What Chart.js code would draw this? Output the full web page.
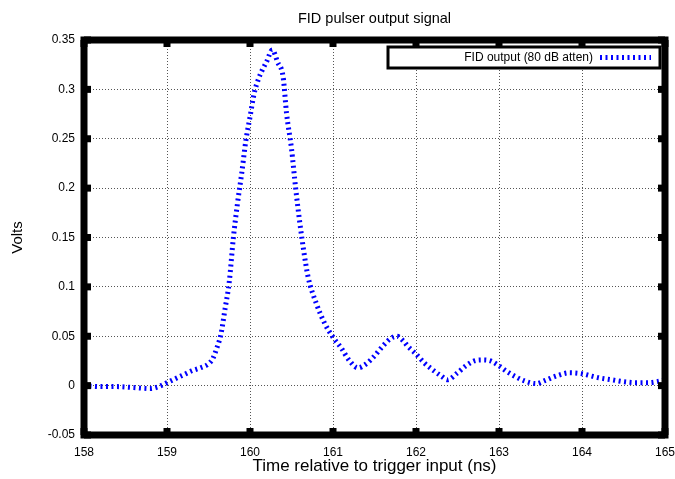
<!DOCTYPE html>
<html>
<head>
<meta charset="utf-8">
<script src="https://cdn.jsdelivr.net/npm/chart.js@4/dist/chart.umd.min.js"></script>
<style>
  html, body { margin: 0; padding: 0; background: #fff; }
  #wrap { width: 675px; height: 479px; }
</style>
</head>
<body>
<div id="wrap"><canvas id="fid" width="675" height="479"></canvas></div>
<script>
const timeNs = [
  158.0, 158.2, 158.4, 158.6, 158.8, 158.9, 159.0, 159.1, 159.2, 159.3,
  159.4, 159.5, 159.55, 159.6, 159.65, 159.7, 159.75, 159.8, 159.85, 159.9,
  159.95, 160.0, 160.05, 160.1, 160.15, 160.2, 160.27, 160.33, 160.4, 160.44,
  160.5, 160.55, 160.6, 160.65, 160.7, 160.8, 160.9, 161.0, 161.1, 161.2,
  161.3, 161.4, 161.5, 161.6, 161.7, 161.77, 161.85, 161.9, 162.0, 162.1,
  162.2, 162.3, 162.38, 162.5, 162.6, 162.7, 162.8, 162.9, 163.0, 163.1,
  163.2, 163.3, 163.45, 163.55, 163.7, 163.85, 164.0, 164.1, 164.2, 164.35,
  164.5, 164.65, 164.8, 164.9, 165.0
];
const volts = [
  0.000, -0.001, -0.001, -0.002, -0.003, -0.001, 0.003, 0.007, 0.011, 0.015,
  0.018, 0.022, 0.027, 0.038, 0.052, 0.078, 0.105, 0.150, 0.185, 0.215,
  0.248, 0.272, 0.296, 0.310, 0.320, 0.328, 0.340, 0.328, 0.312, 0.276,
  0.240, 0.200, 0.165, 0.135, 0.110, 0.083, 0.063, 0.049, 0.038, 0.025,
  0.018, 0.022, 0.030, 0.040, 0.048, 0.050, 0.045, 0.040, 0.032, 0.023,
  0.016, 0.010, 0.006, 0.013, 0.020, 0.025, 0.026, 0.025, 0.020, 0.014,
  0.009, 0.005, 0.002, 0.005, 0.010, 0.013, 0.012, 0.010, 0.008, 0.006,
  0.004, 0.003, 0.003, 0.004, 0.006
];
const xTicks = [158, 159, 160, 161, 162, 163, 164, 165];
const yTicks = [-0.05, 0, 0.05, 0.1, 0.15, 0.2, 0.25, 0.3, 0.35];
const seriesLabel = 'FID output (80 dB atten)';

const FONT = '"Liberation Sans", Arial, sans-serif';
const LINE_BLUE = '#0000ff';
const LINE_DASH = [2, 3.5];

// gnuplot-ish heavy frame, inward tick blocks, legend box
const framePlugin = {
  id: 'frame',
  afterDatasetsDraw(chart) {
    const { ctx, chartArea: a, scales } = chart;
    ctx.save();
    ctx.fillStyle = '#000';
    xTicks.forEach(v => {
      const px = scales.x.getPixelForValue(v);
      ctx.fillRect(px - 3.5, a.bottom - 7, 7, 7);
      ctx.fillRect(px - 3.5, a.top, 7, 7);
    });
    yTicks.forEach(v => {
      const py = scales.y.getPixelForValue(v);
      ctx.fillRect(a.left, py - 3.5, 7, 7);
      ctx.fillRect(a.right - 7, py - 3.5, 7, 7);
    });
    ctx.lineWidth = 7;
    ctx.strokeStyle = '#000';
    ctx.strokeRect(a.left, a.top, a.right - a.left, a.bottom - a.top);

    // legend
    const bx = a.left + 304, by = a.top + 7, bw = a.right - 5 - bx, bh = 21;
    ctx.fillStyle = '#fff';
    ctx.fillRect(bx, by, bw, bh);
    ctx.lineWidth = 3;
    ctx.strokeRect(bx, by, bw, bh);
    ctx.fillStyle = '#000';
    ctx.font = '12px ' + FONT;
    ctx.textAlign = 'right';
    ctx.textBaseline = 'middle';
    ctx.fillText(seriesLabel, bx + 205, by + bh / 2 + 0.5);
    ctx.beginPath();
    ctx.lineWidth = 5;
    ctx.strokeStyle = LINE_BLUE;
    ctx.setLineDash(LINE_DASH);
    ctx.moveTo(bx + 212, by + bh / 2);
    ctx.lineTo(bx + 263, by + bh / 2);
    ctx.stroke();
    ctx.restore();
  }
};

const gridColor = ctx => (ctx.index === 0 || ctx.index === ctx.chart.scales[ctx.scale.id].ticks.length - 1) ? 'rgba(0,0,0,0)' : '#555';

new Chart(document.getElementById('fid'), {
  type: 'line',
  data: {
    datasets: [{
      label: seriesLabel,
      data: timeNs.map((t, i) => ({ x: t, y: volts[i] })),
      borderColor: LINE_BLUE,
      borderWidth: 5,
      borderDash: LINE_DASH,
      borderCapStyle: 'butt',
      pointRadius: 0,
      fill: false,
      cubicInterpolationMode: 'monotone'
    }]
  },
  options: {
    responsive: false,
    animation: false,
    layout: { padding: { top: 0, right: 10, bottom: 0, left: 0 } },
    plugins: {
      legend: { display: false },
      tooltip: { enabled: false },
      title: {
        display: true,
        fullSize: false,
        text: 'FID pulser output signal',
        color: '#000',
        font: { family: FONT, size: 14.5, weight: 'normal' },
        padding: { top: 10, bottom: 12.6 }
      }
    },
    scales: {
      x: {
        type: 'linear', min: 158, max: 165,
        afterBuildTicks: s => { s.ticks = xTicks.map(v => ({ value: v })); },
        afterFit: s => { s.height = 44; s.paddingLeft = 0; s.paddingRight = 0; },
        ticks: { color: '#000', font: { family: FONT, size: 12 }, padding: 10, maxRotation: 0 },
        grid: { color: gridColor, lineWidth: 1, drawTicks: false },
        border: { display: false, dash: [1, 2] },
        title: {
          display: true, text: 'Time relative to trigger input (ns)', color: '#000',
          font: { family: FONT, size: 17 }, padding: { top: 2, bottom: 2 }
        }
      },
      y: {
        type: 'linear', min: -0.05, max: 0.35,
        afterBuildTicks: s => { s.ticks = yTicks.map(v => ({ value: v })); },
        afterFit: s => { s.width = 84; },
        ticks: {
          color: '#000', font: { family: FONT, size: 12 }, padding: 9,
          callback: v => String(Number(v.toFixed(2)))
        },
        grid: { color: gridColor, lineWidth: 1, drawTicks: false },
        border: { display: false, dash: [1, 2] },
        title: {
          display: true, text: 'Volts', color: '#000',
          font: { family: FONT, size: 15 }, padding: { top: 9, bottom: 9 }
        }
      }
    }
  },
  plugins: [framePlugin]
});
</script>
</body>
</html>
